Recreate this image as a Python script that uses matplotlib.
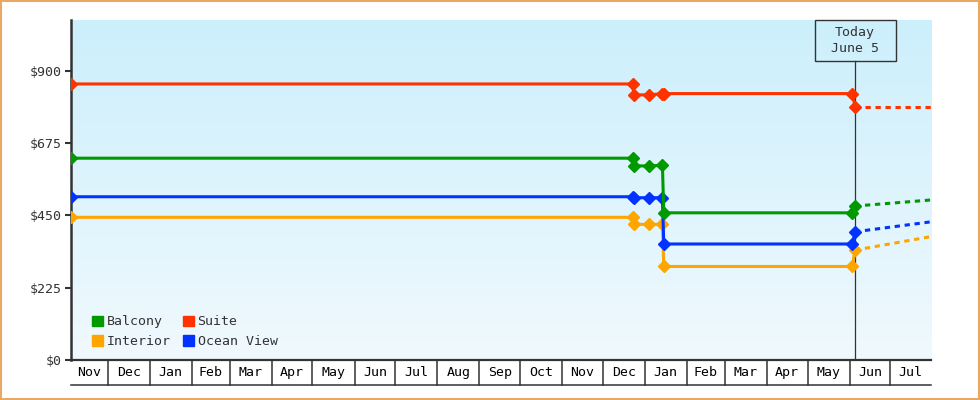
import matplotlib
matplotlib.use('Agg')
import matplotlib.pyplot as plt
import matplotlib.dates as mdates
import numpy as np
import pandas as pd
from matplotlib.patches import Rectangle, Patch
from matplotlib.colors import LinearSegmentedColormap
from matplotlib.transforms import blended_transform_factory

plt.rcParams['font.family'] = ['DejaVu Sans Mono', 'DejaVu Sans']
plt.rcParams['lines.scale_dashes'] = False

# price history (one shared list of dates)
dates = pd.to_datetime(['2021-11-04', '2022-12-23', '2022-12-24', '2023-01-04',
                        '2023-01-14', '2023-01-15', '2023-06-03', '2023-06-05'])
balcony = [628, 628, 604, 604, 606, 458, 458, 479]
suite = [859, 859, 825, 825, 829, 829, 829, 788]
interior = [444, 444, 422, 422, 422, 291, 291, 342]
ocean = [508, 508, 505, 505, 505, 361, 361, 399]

# forecast after today
fc_dates = pd.to_datetime(['2023-06-05', '2023-07-31'])
balcony_fc = [479, 498]
suite_fc = [788, 788]
interior_fc = [342, 384]
ocean_fc = [399, 430]

yticks = [0, 225, 450, 675, 900]
today = pd.Timestamp('2023-06-05')
today_label = 'Today\nJune 5'

x_start = pd.Timestamp('2021-11-04')
x_end = pd.Timestamp('2023-07-31')

colors = {'Balcony': '#009900', 'Suite': '#FF3300',
          'Interior': '#FFA500', 'Ocean View': '#0033FF'}
dark = '#333333'

fig = plt.figure(figsize=(9.8, 4), dpi=100)
ax = fig.add_axes([71 / 980, 40 / 400, 860 / 980, 340 / 400])

# gradient background
grad = LinearSegmentedColormap.from_list('bg', ['#F0F9FE', '#CCEFFC'])
ax.imshow(np.linspace(0, 1, 256).reshape(-1, 1), cmap=grad, origin='lower',
          extent=[0, 1, 0, 1], transform=ax.transAxes, aspect='auto', zorder=0)

# lines, drawn back to front
series = [('Interior', interior, interior_fc), ('Ocean View', ocean, ocean_fc),
          ('Balcony', balcony, balcony_fc), ('Suite', suite, suite_fc)]
for name, vals, fc in series:
    c = colors[name]
    ax.plot(fc_dates, fc, color=c, lw=2.2, dashes=(3.8, 3.4), zorder=3)
    ax.plot(dates, vals, color=c, lw=2.2, marker='D', ms=6, zorder=4)

ax.set_xlim(x_start, x_end)
ax.set_ylim(0, 1058)

# y axis
ax.set_yticks(yticks)
ax.set_yticklabels([f'${v}' for v in yticks])
ax.tick_params(axis='y', length=4.5, width=1.5, color=dark, pad=2,
               labelsize=9.5, labelcolor=dark)
ax.set_xticks([])
for s in ['top', 'right']:
    ax.spines[s].set_visible(False)
ax.spines['left'].set_linewidth(1.8)
ax.spines['left'].set_color(dark)
ax.spines['bottom'].set_linewidth(1.6)
ax.spines['bottom'].set_color(dark)

# month boxes under the axis
tr = blended_transform_factory(ax.transData, ax.transAxes)
box_h = 25 / 340
bounds = pd.date_range('2021-12-01', x_end, freq='MS')
edges = [x_start] + list(bounds) + [x_end]
for b in bounds:
    ax.plot([b, b], [0, -box_h], color=dark, lw=1.1, transform=tr, clip_on=False)
ax.plot([0, 1], [-box_h, -box_h], color=dark, lw=1.1, transform=ax.transAxes,
        clip_on=False)
for a, b in zip(edges[:-1], edges[1:]):
    mid = a + (b - a) / 2
    ax.text(mid, -box_h / 2, a.strftime('%b'), transform=tr, ha='center',
            va='center', fontsize=9.5, color='black')

# today marker
t = mdates.date2num(today)
box_bottom = (360 - 61) / 340
ax.plot([today, today], [0, box_bottom], color=dark, lw=0.9, transform=tr, zorder=2)
half_w = 40.5 / 860 * (mdates.date2num(x_end) - mdates.date2num(x_start))
ax.add_patch(Rectangle((t - half_w, box_bottom), 2 * half_w, 1 - box_bottom,
                       transform=tr, fill=False, edgecolor=dark, lw=1.0,
                       clip_on=False, zorder=5))
ax.text(today, (box_bottom + 1) / 2, today_label, transform=tr, ha='center',
        va='center', fontsize=9.5, color=dark, linespacing=1.35, zorder=6)

# legend
handles = [Patch(color=colors[n]) for n in ['Balcony', 'Interior', 'Suite', 'Ocean View']]
labels = ['Balcony', 'Interior', 'Suite', 'Ocean View']
leg = ax.legend(handles, labels, ncol=2, loc='lower left',
                bbox_to_anchor=(21 / 860, 12 / 340), frameon=False,
                fontsize=9.5, handlelength=0.85, handleheight=0.85,
                handletextpad=0.25, columnspacing=0.95, labelspacing=0.5,
                borderpad=0, borderaxespad=0)
for txt in leg.get_texts():
    txt.set_color(dark)

# orange frame round the whole picture
fig.patches.append(Rectangle((0.001, 0.0025), 0.998, 0.995, transform=fig.transFigure,
                             fill=False, edgecolor='#E9A863', lw=1.5))

fig.savefig('out.png', dpi=100)
